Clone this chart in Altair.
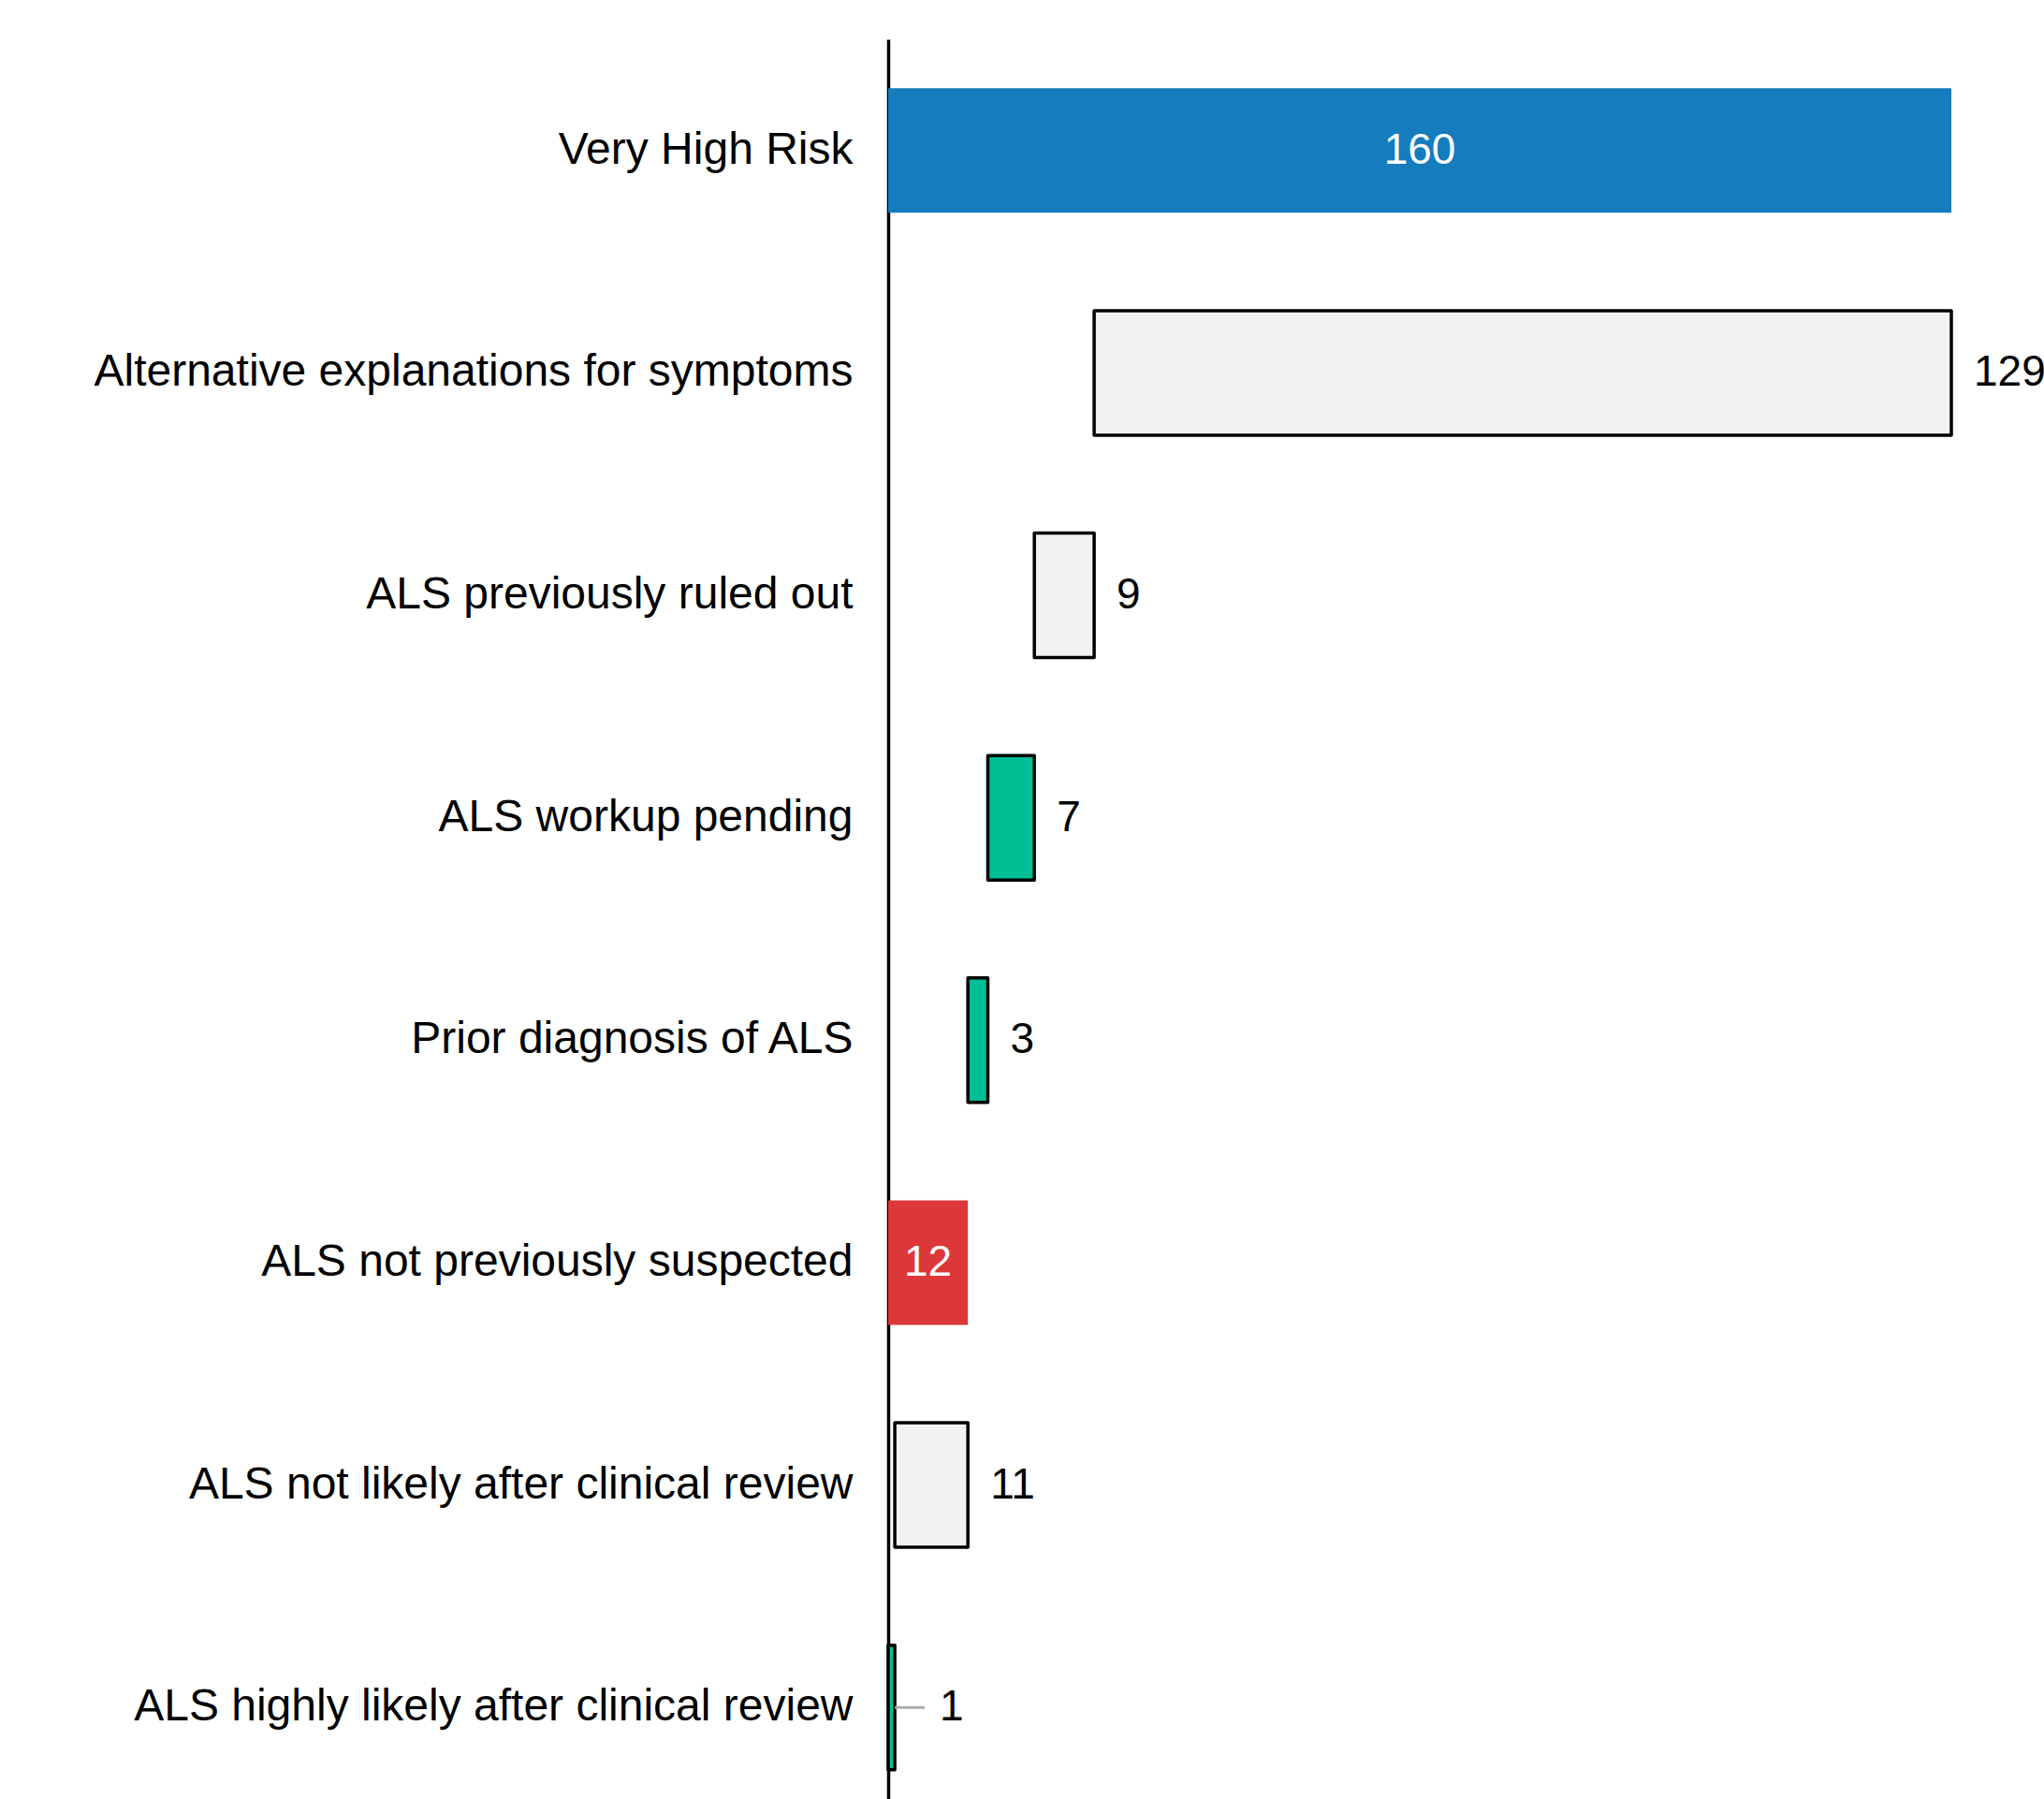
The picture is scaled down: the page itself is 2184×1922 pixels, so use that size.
import altair as alt
import pandas as pd

categories = [
    "Very High Risk",
    "Alternative explanations for symptoms",
    "ALS previously ruled out",
    "ALS workup pending",
    "Prior diagnosis of ALS",
    "ALS not previously suspected",
    "ALS not likely after clinical review",
    "ALS highly likely after clinical review",
]
values = [160, 129, 9, 7, 3, 12, 11, 1]
starts = [0, 31, 22, 15, 12, 0, 1, 0]
ends = [160, 160, 31, 22, 15, 12, 12, 1]
kinds = ["total_start", "excluded", "excluded", "retained", "retained",
         "total_end", "excluded", "retained"]
leader = [False, False, False, False, False, False, False, True]

df = pd.DataFrame({
    "cat": categories, "value": values, "start": starts, "end": ends,
    "kind": kinds, "leader": leader,
})

color_scale = alt.Scale(
    domain=["total_start", "excluded", "retained", "total_end"],
    range=["#157CBD", "#F2F2F2", "#00BF95", "#DC3739"],
)

x_scale = alt.Scale(domain=[0, 160], nice=False, zero=True)
y_scale = alt.Scale(paddingInner=0.44, paddingOuter=0.22, range=[0, 1901])

y_enc = alt.Y(
    "cat:N", sort=categories, scale=y_scale, title=None,
    axis=alt.Axis(
        ticks=False, labelPadding=38, labelFontSize=48, labelColor="#000000",
        labelFont="Liberation Sans", labelLimit=1000,
        domainColor="#000000", domainWidth=3.5, grid=False,
    ),
)

base = alt.Chart(df)

totals = base.transform_filter(
    "indexof(datum.kind, 'total') == 0"
).mark_bar().encode(
    y=y_enc,
    x=alt.X("start:Q", scale=x_scale, axis=None),
    x2="end:Q",
    color=alt.Color("kind:N", scale=color_scale, legend=None),
)

steps = base.transform_filter(
    "indexof(datum.kind, 'total') != 0"
).mark_bar(stroke="#000000", strokeWidth=3.5, strokeJoin="round").encode(
    y=alt.Y("cat:N", sort=categories, scale=y_scale),
    x=alt.X("start:Q", scale=x_scale, axis=None),
    x2="end:Q",
    color=alt.Color("kind:N", scale=color_scale, legend=None),
)

inside = base.transform_filter(
    "indexof(datum.kind, 'total') == 0"
).transform_calculate(
    mid="(datum.start + datum.end) / 2"
).mark_text(
    color="#FFFFFF", fontSize=46, font="Liberation Sans", align="center", baseline="middle"
).encode(
    y=alt.Y("cat:N", sort=categories, scale=y_scale),
    x=alt.X("mid:Q", scale=x_scale),
    text="value:Q",
)

outside = base.transform_filter(
    "indexof(datum.kind, 'total') != 0 && !datum.leader"
).mark_text(
    color="#000000", fontSize=46, font="Liberation Sans", align="left", baseline="middle", dx=24
).encode(
    y=alt.Y("cat:N", sort=categories, scale=y_scale),
    x=alt.X("end:Q", scale=x_scale),
    text="value:Q",
)

leader_line = base.transform_filter("datum.leader").mark_rule(
    color="#AAAAAA", strokeWidth=3, x2Offset=32
).encode(
    y=alt.Y("cat:N", sort=categories, scale=y_scale, bandPosition=0.5),
    x=alt.X("end:Q", scale=x_scale),
    x2="end:Q",
)

leader_text = base.transform_filter("datum.leader").mark_text(
    color="#000000", fontSize=46, font="Liberation Sans", align="left", baseline="middle", dx=48
).encode(
    y=alt.Y("cat:N", sort=categories, scale=y_scale),
    x=alt.X("end:Q", scale=x_scale),
    text="value:Q",
)

chart = alt.layer(totals, steps, inside, outside, leader_line, leader_text).properties(
    width=1136,
    height=1880,
    autosize=alt.AutoSizeParams(type="none"),
    padding={"left": 949, "top": 42, "right": 99, "bottom": 0},
    background="#FFFFFF",
).configure_view(stroke=None)

chart.save("out.html", embed_options={"renderer": "svg", "actions": False})
